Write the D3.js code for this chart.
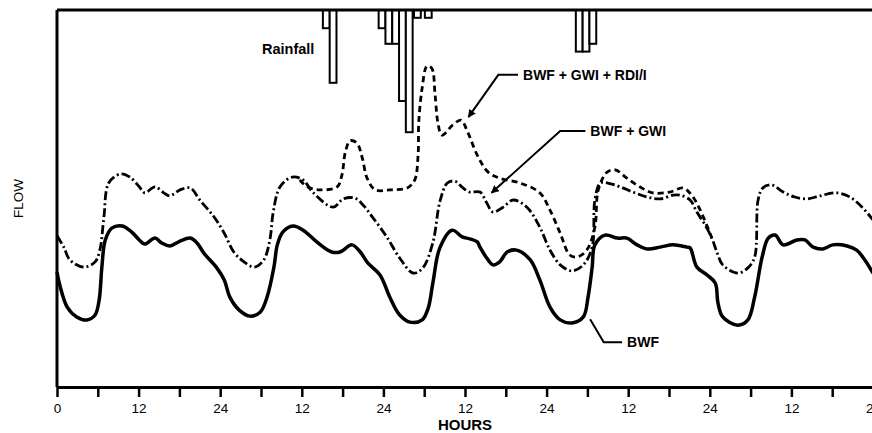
<!DOCTYPE html>
<html lang="en">
<head>
<meta charset="UTF-8">
<title>Flow components</title>
<style>
    body, html { margin: 0; background: #fff; overflow: hidden; }
    text { font-family: "Liberation Sans", Arial, sans-serif; }
</style>
</head>
<body>
<script src="https://cdn.jsdelivr.net/npm/d3@7"></script>
<script>
// hours from start of record, flow in arbitrary units (0-100)
const bwf = [
    [0, 30.5], [0.4, 27.1], [1.5, 21.2], [2.9, 18.6], [4.4, 17.8], [5.6, 19.1], [6.2, 23.1], [6.6, 31.8],
    [7.1, 39.0], [8.1, 42.2], [9.6, 42.7], [11.0, 41.1], [12.1, 39.0], [12.9, 37.9], [14.4, 39.5], [15.4, 38.2],
    [16.6, 37.4], [18.1, 38.7], [19.6, 39.5], [20.6, 38.2], [21.6, 35.5], [23.5, 31.6], [24.6, 28.4], [25.4, 23.9],
    [26.8, 20.4], [28.4, 18.8], [29.9, 19.9], [30.9, 23.9], [31.9, 31.8], [32.4, 37.7], [33.2, 41.1], [34.7, 42.7],
    [36.2, 41.6], [38.2, 38.5], [40.4, 35.8], [41.6, 35.8], [43.4, 37.7], [44.6, 35.8], [45.7, 32.9], [47.5, 29.7],
    [49.0, 23.6], [50.4, 19.1], [51.9, 17.2], [53.7, 17.8], [54.6, 21.0], [55.3, 27.9], [56.3, 36.9], [58.1, 41.6],
    [59.6, 39.8], [60.7, 39.3], [61.8, 38.5], [62.2, 37.1], [63.2, 34.2], [64.1, 32.4], [65.1, 33.2], [66.2, 35.8],
    [67.6, 36.3], [69.6, 33.7], [71.0, 28.4], [72.5, 21.2], [74.0, 17.8], [75.7, 17.0], [77.4, 18.6], [78.1, 23.9],
    [78.7, 31.8], [79.1, 37.7], [80.6, 40.3], [82.4, 39.5], [83.8, 39.5], [85.3, 37.7], [86.8, 36.6], [88.7, 37.1],
    [90.6, 37.7], [92.6, 37.1], [93.1, 36.9], [94.1, 31.8], [95.6, 29.7], [96.8, 27.6], [97.2, 22.3], [97.9, 18.6],
    [100.1, 16.4], [101.6, 17.8], [102.6, 23.9], [103.7, 34.5], [104.6, 39.5], [105.6, 40.3], [106.8, 37.7], [108.8, 39.0],
    [110.0, 39.0], [111.2, 37.1], [112.6, 36.6], [114.1, 37.7], [116.2, 37.4], [117.6, 36.3], [118.8, 33.7], [120, 30.2]
];

const bwfGwi = [
    [0, 40.1], [1.0, 37.1], [1.9, 33.7], [4.0, 31.8], [5.6, 33.2], [6.3, 36.3], [6.9, 45.1], [7.6, 54.1],
    [9.3, 56.5], [10.7, 55.7], [12.1, 53.1], [12.9, 51.5], [14.4, 53.1], [15.7, 51.5], [16.6, 50.7], [18.1, 52.3],
    [19.6, 52.8], [21.0, 49.6], [23.1, 45.1], [24.6, 40.8], [26.0, 35.8], [27.5, 33.2], [29.0, 31.8], [30.4, 33.7],
    [31.3, 39.0], [31.8, 46.4], [32.8, 53.1], [34.6, 55.7], [36.2, 54.9], [37.6, 51.7], [40.6, 47.7], [42.1, 49.9],
    [43.8, 50.1], [45.0, 48.3], [46.5, 44.8], [48.5, 39.8], [50.4, 34.2], [52.4, 30.2], [53.8, 31.6], [55.3, 38.5],
    [56.3, 49.1], [57.4, 54.1], [58.5, 54.6], [59.7, 52.8], [60.7, 51.7], [62.2, 51.7], [63.2, 48.8], [64.1, 46.4],
    [65.6, 47.7], [67.1, 49.6], [69.1, 47.7], [71.0, 42.4], [72.5, 36.3], [74.0, 32.4], [75.7, 30.8], [77.4, 32.4],
    [78.7, 37.1], [79.1, 49.6], [79.9, 54.1], [81.0, 54.1], [82.8, 53.1], [84.7, 51.7], [86.8, 50.4], [88.7, 49.9],
    [90.6, 50.9], [91.6, 50.9], [93.1, 49.6], [94.1, 46.4], [95.3, 43.0], [96.3, 39.5], [97.1, 35.5], [97.9, 32.4],
    [100.1, 30.2], [101.6, 31.6], [102.6, 34.5], [103.1, 49.6], [103.8, 52.8], [105.1, 53.6], [106.8, 51.7], [108.5, 50.4],
    [110.3, 49.9], [112.2, 50.7], [114.7, 51.5], [116.6, 50.4], [118.4, 47.7], [120, 44.3]
];

// only drawn where it separates from BWF + GWI
const bwfGwiRdii = [
    [35.7, 54.9], [36.8, 53.1], [38.7, 52.3], [41.2, 53.1], [41.9, 56.2], [42.4, 62.3], [43.1, 65.3], [44.1, 64.7],
    [44.9, 60.7], [45.6, 55.4], [46.8, 52.3], [49.0, 52.3], [51.5, 52.8], [52.6, 54.9], [53.1, 61.5], [53.2, 70.3],
    [53.7, 79.3], [54.4, 85.1], [55.1, 84.6], [55.6, 77.5], [56.0, 70.3], [56.6, 66.8], [58.2, 69.5], [59.4, 70.8],
    [60.4, 67.6], [61.8, 61.5], [63.4, 57.0], [65.1, 55.4], [68.1, 54.1], [71.0, 51.5], [72.5, 46.9], [74.0, 40.8],
    [75.4, 35.0], [76.5, 34.5], [77.9, 36.3], [79.1, 42.4], [79.6, 52.3], [80.9, 57.0], [82.1, 57.6], [83.8, 55.4],
    [85.7, 53.1], [87.6, 51.5], [90.1, 51.7], [92.1, 52.8], [93.4, 50.7], [94.6, 46.9], [96.3, 39.5]
];

// hourly rainfall, bar start hour and depth (in)
const rainHours = [39.1, 40.1, 47.3, 48.3, 49.3, 50.3, 51.3, 52.5, 54.1, 76.3, 77.3, 78.3];
const rainDepth = [0.07, 0.28, 0.07, 0.13, 0.13, 0.35, 0.47, 0.03, 0.03, 0.16, 0.16, 0.13];

const tickHours = d3.range(0, 121, 6);
const tickLabel = h => h === 0 ? "0" : (h % 24 === 0 ? "24" : (h % 12 === 0 ? "12" : ""));

const width = 872, height = 433;
const margin = {top: 10, left: 57, bottom: 46};

const svg = d3.select("body").append("svg")
    .attr("width", width)
    .attr("height", height);

const x = d3.scaleLinear().domain([0, 120]).range([margin.left, 873]);
const y = d3.scaleLinear().domain([0, 100]).range([height - margin.bottom, margin.top]);
const rain = d3.scaleLinear().domain([0, 0.5]).range([0, 130]);

const line = d3.line()
    .x(d => x(d[0]))
    .y(d => y(d[1]))
    .curve(d3.curveCatmullRom.alpha(0.5));

// rainfall bars hanging from the top frame
svg.append("g")
    .selectAll("rect")
    .data(rainHours)
    .join("rect")
    .attr("x", d => x(d))
    .attr("y", y(100))
    .attr("width", d => x(d + 1) - x(d))
    .attr("height", (d, i) => rain(rainDepth[i]))
    .attr("fill", "#fff")
    .attr("stroke", "#000")
    .attr("stroke-width", 2);

// frame: top and left
svg.append("line")
    .attr("x1", x(0)).attr("x2", width)
    .attr("y1", y(100)).attr("y2", y(100))
    .attr("stroke", "#000").attr("stroke-width", 3);
svg.append("line")
    .attr("x1", x(0)).attr("x2", x(0))
    .attr("y1", y(100)).attr("y2", y(0))
    .attr("stroke", "#000").attr("stroke-width", 3);

// series
svg.append("path")
    .datum(bwfGwi)
    .attr("fill", "none")
    .attr("stroke", "#000")
    .attr("stroke-width", 2.8)
    .attr("stroke-dasharray", "9,3,2,3")
    .attr("d", line);

svg.append("path")
    .datum(bwfGwiRdii)
    .attr("fill", "none")
    .attr("stroke", "#000")
    .attr("stroke-width", 2.8)
    .attr("stroke-dasharray", "6,4")
    .attr("d", line);

svg.append("path")
    .datum(bwf)
    .attr("fill", "none")
    .attr("stroke", "#000")
    .attr("stroke-width", 3.5)
    .attr("stroke-linejoin", "round")
    .attr("d", line);

// x axis
const xAxis = svg.append("g")
    .attr("transform", `translate(0,${y(0)})`)
    .call(d3.axisBottom(x)
        .tickValues(tickHours)
        .tickFormat(tickLabel)
        .tickSize(10)
        .tickSizeOuter(0)
        .tickPadding(6));
xAxis.select(".domain").attr("stroke-width", 3);
xAxis.selectAll(".tick line").attr("stroke-width", 2.5);
xAxis.selectAll(".tick text")
    .attr("font-size", 13.5)
    .attr("font-family", "Liberation Sans, Arial, sans-serif")
    .attr("fill", "#000");

svg.append("text")
    .attr("x", x(60))
    .attr("y", 430)
    .attr("text-anchor", "middle")
    .attr("font-size", 15)
    .attr("font-weight", "bold")
    .text("HOURS");

svg.append("text")
    .attr("transform", `translate(23,${y(50)}) rotate(-90)`)
    .attr("text-anchor", "middle")
    .attr("font-size", 13.5)
    .attr("fill", "#000")
    .text("FLOW");

svg.append("text")
    .attr("x", 262)
    .attr("y", 54)
    .attr("font-size", 14.5)
    .attr("font-weight", "bold")
    .text("Rainfall");

// leader labels
svg.append("defs").append("marker")
    .attr("id", "arrow")
    .attr("viewBox", "0 0 10 10")
    .attr("refX", 9).attr("refY", 5)
    .attr("markerWidth", 4).attr("markerHeight", 4)
    .attr("orient", "auto")
    .append("path")
    .attr("d", "M0,0L10,5L0,10Z")
    .attr("fill", "#000");

const labels = [
    {text: "BWF + GWI + RDI/I", pts: [[67.8, 82.8], [64.9, 82.8], [60.5, 71.6]], arrow: true},
    {text: "BWF + GWI", pts: [[77.7, 67.9], [74.0, 67.9], [63.9, 51.5]], arrow: true},
    {text: "BWF", pts: [[83.1, 11.9], [80.4, 11.9], [78.4, 18.0]], arrow: false}
];

labels.forEach(l => {
    svg.append("path")
        .attr("d", d3.line()(l.pts.map(p => [x(p[0]), y(p[1])])))
        .attr("fill", "none")
        .attr("stroke", "#000")
        .attr("stroke-width", 2)
        .attr("marker-end", l.arrow ? "url(#arrow)" : null);
    svg.append("text")
        .attr("x", x(l.pts[0][0]) + 5)
        .attr("y", y(l.pts[0][1]) + 5)
        .attr("font-size", 14)
        .attr("font-weight", "bold")
        .text(l.text);
});
</script>
</body>
</html>
